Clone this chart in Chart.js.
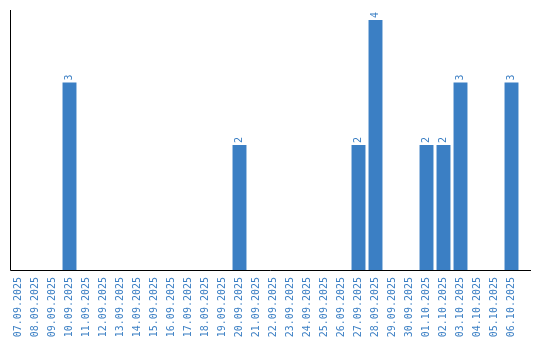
<!DOCTYPE html>
<html>
<head>
<meta charset="utf-8">
<script src="https://cdn.jsdelivr.net/npm/chart.js@4/dist/chart.umd.min.js"></script>
<style>
  html, body { margin: 0; padding: 0; background: #fff; }
  #wrap { width: 540px; height: 340px; }
</style>
</head>
<body>
<div id="wrap"><canvas id="myChart"></canvas></div>
<script>
const days = [
  '07.09.2025', '08.09.2025', '09.09.2025', '10.09.2025', '11.09.2025', '12.09.2025',
  '13.09.2025', '14.09.2025', '15.09.2025', '16.09.2025', '17.09.2025', '18.09.2025',
  '19.09.2025', '20.09.2025', '21.09.2025', '22.09.2025', '23.09.2025', '24.09.2025',
  '25.09.2025', '26.09.2025', '27.09.2025', '28.09.2025', '29.09.2025', '30.09.2025',
  '01.10.2025', '02.10.2025', '03.10.2025', '04.10.2025', '05.10.2025', '06.10.2025'
];
const counts = [
  0, 0, 0, 3, 0, 0,
  0, 0, 0, 0, 0, 0,
  0, 2, 0, 0, 0, 0,
  0, 0, 2, 4, 0, 0,
  2, 2, 3, 0, 0, 3
];
const blue = '#3b7fc4';
const monoFont = { family: 'DejaVu Sans Mono', size: 10 };

// axis lines + vertical value labels on top of the bars
const axisAndValues = {
  id: 'axisAndValues',
  afterDatasetsDraw(chart) {
    const { ctx, chartArea } = chart;
    ctx.save();
    ctx.strokeStyle = '#000';
    ctx.lineWidth = 1;
    ctx.beginPath();
    ctx.moveTo(chartArea.left + 0.5, chartArea.top);
    ctx.lineTo(chartArea.left + 0.5, chartArea.bottom + 0.5);
    ctx.lineTo(chartArea.right + 11, chartArea.bottom + 0.5);
    ctx.stroke();

    ctx.fillStyle = blue;
    ctx.font = '10px "DejaVu Sans Mono"';
    ctx.textAlign = 'left';
    ctx.textBaseline = 'middle';
    chart.getDatasetMeta(0).data.forEach((bar, i) => {
      if (!counts[i]) return;
      ctx.save();
      ctx.translate(bar.x, bar.y - 2);
      ctx.rotate(-Math.PI / 2);
      ctx.fillText(String(counts[i]), 0, 0);
      ctx.restore();
    });
    ctx.restore();
  }
};

new Chart(document.getElementById('myChart'), {
  type: 'bar',
  data: {
    labels: days,
    datasets: [{
      data: counts,
      backgroundColor: blue,
      borderWidth: 0,
      categoryPercentage: 1,
      barPercentage: 0.82
    }]
  },
  options: {
    responsive: true,
    maintainAspectRatio: false,
    animation: false,
    layout: { padding: { left: 10, top: 10, right: 20, bottom: 0 } },
    plugins: { legend: { display: false }, tooltip: { enabled: false } },
    scales: {
      x: {
        grid: { display: false },
        border: { display: false },
        ticks: {
          color: blue,
          font: monoFont,
          minRotation: 90,
          maxRotation: 90,
          autoSkip: false,
          padding: -1
        },
        afterFit(scale) { scale.height = 70; }
      },
      y: {
        display: false,
        min: 0,
        max: 4.16
      }
    }
  },
  plugins: [axisAndValues]
});
</script>
</body>
</html>
